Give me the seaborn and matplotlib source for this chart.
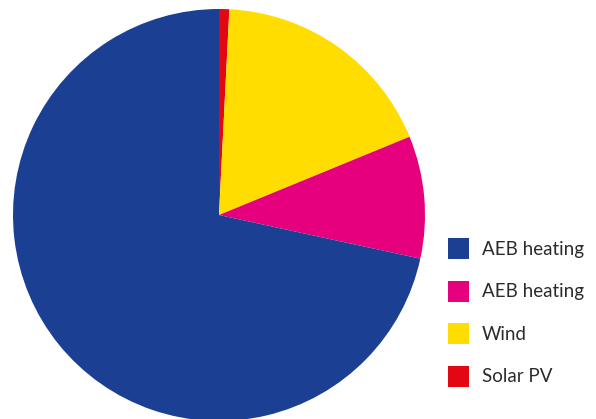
import matplotlib
matplotlib.use("Agg")
import matplotlib.pyplot as plt
from matplotlib.patches import Patch
import seaborn as sns

# Energy source shares (percent), listed clockwise from the top of the pie
sources = ["Solar PV", "Wind", "AEB heating", "AEB heating"]
shares = [0.8, 18.0, 9.6, 71.6]
colors = ["#e30613", "#ffdd00", "#e6007e", "#1a3f93"]

# Legend entries, top to bottom
legend_labels = ["AEB heating", "AEB heating", "Wind", "Solar PV"]
legend_colors = ["#1a3f93", "#e6007e", "#ffdd00", "#e30613"]

sns.set_theme(style="white")
plt.rcParams["font.family"] = ["Lato", "DejaVu Sans"]

W, H = 596, 419
fig = plt.figure(figsize=(W / 100, H / 100), dpi=100)
ax = fig.add_axes([0, 0, 1, 1])

ax.pie(shares, colors=colors, startangle=90, counterclock=False,
       center=(219, H - 215), radius=206,
       wedgeprops=dict(linewidth=0))
ax.set_xlim(0, W)
ax.set_ylim(0, H)
ax.set_aspect("auto")
ax.axis("off")

handles = [Patch(facecolor=c, edgecolor="none") for c in legend_colors]
leg = fig.legend(handles, legend_labels, loc="upper left",
                 bbox_to_anchor=(448 / W, 1 - 238 / H),
                 frameon=False, fontsize=13.5, handlelength=1.12,
                 handleheight=1.346, handletextpad=0.7, labelspacing=1.15,
                 borderpad=0, borderaxespad=0)
for t in leg.get_texts():
    t.set_color("#2b2b2b")

fig.savefig("out.png", dpi=100, facecolor="white")
